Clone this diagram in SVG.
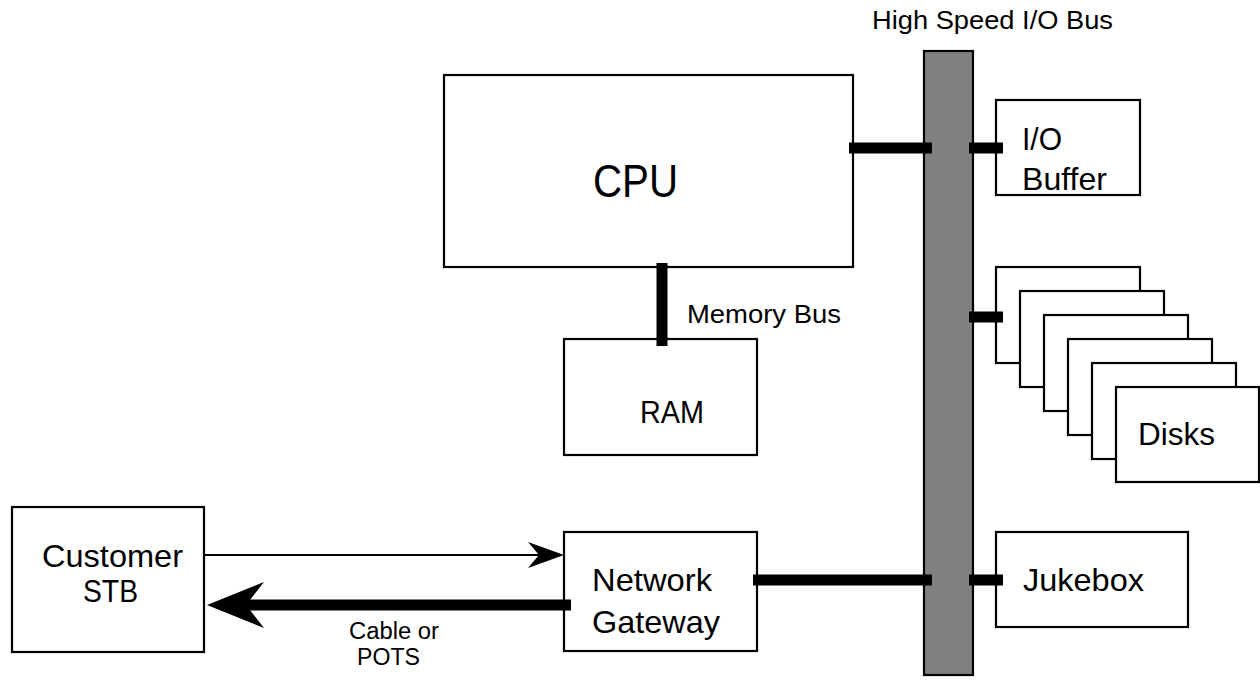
<svg xmlns="http://www.w3.org/2000/svg" width="1260" height="687" viewBox="0 0 1260 687">
<style>
.box{fill:#fff;stroke:#000;stroke-width:2.2}
.bus{fill:#808080;stroke:#000;stroke-width:2.2}
.thick{stroke:#000;stroke-width:11;fill:none}
.thin{stroke:#000;stroke-width:2.2;fill:none}
.head{fill:#000;stroke:none}
text{font-family:"Liberation Sans",Arial,Helvetica,sans-serif;fill:#000}
.big{font-size:32px}
.mid{font-size:26px}
.sm{font-size:23px}
</style>
<rect width="1260" height="687" fill="#fff"/>
<g id="hs-bus">
<rect class="bus" x="924" y="51" width="49" height="624"/>
<text class="mid" x="872" y="29" textLength="241" lengthAdjust="spacingAndGlyphs">High Speed I/O Bus</text>
</g>
<g id="cpu">
<rect class="box" x="444" y="75" width="409" height="192"/>
<text x="593" y="197" font-size="47" textLength="85" lengthAdjust="spacingAndGlyphs">CPU</text>
</g>
<g id="ram">
<rect class="box" x="564" y="339" width="193" height="116"/>
<text class="big" x="640" y="423" textLength="64" lengthAdjust="spacingAndGlyphs">RAM</text>
</g>
<g id="io-buffer">
<rect class="box" x="996" y="100" width="144" height="95"/>
<text class="big" x="1022" y="150" textLength="40" lengthAdjust="spacingAndGlyphs">I/O</text>
<text class="big" x="1022" y="190" textLength="85" lengthAdjust="spacingAndGlyphs">Buffer</text>
</g>
<g id="disks">
<rect class="box" x="996" y="267" width="144" height="96"/>
<rect class="box" x="1020" y="291" width="144" height="96"/>
<rect class="box" x="1044" y="315" width="144" height="96"/>
<rect class="box" x="1068" y="339" width="144" height="96"/>
<rect class="box" x="1092" y="363" width="144" height="96"/>
<rect class="box" x="1116" y="387" width="143" height="95"/>
<text class="big" x="1138" y="445" textLength="77" lengthAdjust="spacingAndGlyphs">Disks</text>
</g>
<g id="jukebox">
<rect class="box" x="996" y="532" width="192" height="95"/>
<text class="big" x="1023" y="591" textLength="121" lengthAdjust="spacingAndGlyphs">Jukebox</text>
</g>
<g id="network-gateway">
<rect class="box" x="564" y="532" width="193" height="119"/>
<text class="big" x="592" y="591" textLength="120" lengthAdjust="spacingAndGlyphs">Network</text>
<text class="big" x="592" y="633" textLength="128" lengthAdjust="spacingAndGlyphs">Gateway</text>
</g>
<g id="customer-stb">
<rect class="box" x="12" y="507" width="192" height="145"/>
<text class="big" x="42" y="567" textLength="141" lengthAdjust="spacingAndGlyphs">Customer</text>
<text class="big" x="83" y="602" textLength="55" lengthAdjust="spacingAndGlyphs">STB</text>
</g>
<g id="connectors">
<line class="thick" x1="849" y1="148" x2="932" y2="148"/>
<line class="thick" x1="969" y1="148" x2="1003" y2="148"/>
<line class="thick" x1="969" y1="317" x2="1003" y2="317"/>
<line class="thick" x1="753" y1="580" x2="932" y2="580"/>
<line class="thick" x1="969" y1="580" x2="1003" y2="580"/>
<line class="thick" x1="662" y1="263" x2="662" y2="346"/>
<line class="thin" x1="204" y1="555" x2="540" y2="555"/>
<path class="head" d="M564,555 L528,542 L539,555 L528,568 Z"/>
<line class="thick" x1="244" y1="605" x2="571" y2="605"/>
<path class="head" d="M207,605 L264,582 L246,605 L264,628 Z"/>
<text class="mid" x="687" y="323" textLength="154" lengthAdjust="spacingAndGlyphs">Memory Bus</text>
<text class="sm" x="349" y="639" textLength="90" lengthAdjust="spacingAndGlyphs">Cable or</text>
<text class="sm" x="357" y="665" textLength="63" lengthAdjust="spacingAndGlyphs">POTS</text>
</g>
</svg>
